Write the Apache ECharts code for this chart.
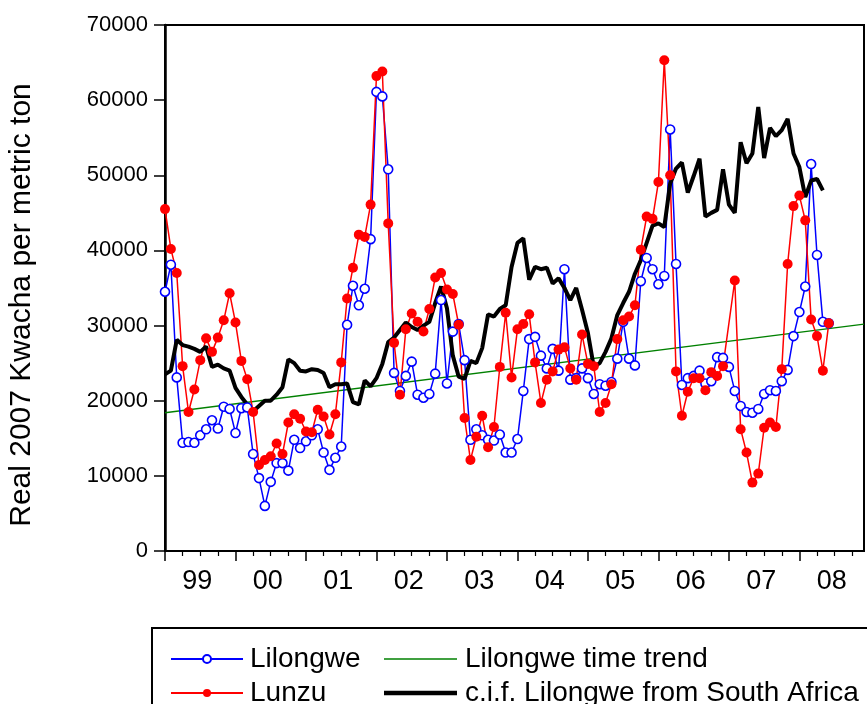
<!DOCTYPE html>
<html><head><meta charset="utf-8">
<script src="https://cdn.jsdelivr.net/npm/echarts@6/dist/echarts.min.js"></script>
<style>html,body{margin:0;padding:0;background:#fff}#c{width:867px;height:704px}</style>
</head><body><div id="c"></div><script>
// Monthly observations, 1999M01 .. 2008M12 (index 0..119)
const yearLabels = ['99','00','01','02','03','04','05','06','07','08'];

const lilongwe = [
 34500,38100,23100,14400,14500,14400,15400,16200,17400,16300,19200,18900,
 15700,19000,19100,12900,9700,6000,9200,11700,11700,10700,14800,13700,
 14600,15400,16200,13100,10800,12400,13900,30100,35300,32700,34900,41500,
 61100,60500,50800,23700,21300,23300,25200,20800,20400,20900,23600,33400,
 22300,29200,30200,25400,14800,16200,15400,14800,14700,15500,13100,13100,
 14900,21300,28200,28500,26000,24300,26900,24000,37500,22800,23000,24300,
 23000,20900,22200,22000,22500,25600,30500,25600,24700,35900,39000,37500,
 35500,36600,56100,38200,22100,23000,23300,24000,22300,22600,25800,25700,
 24500,21300,19300,18500,18400,18900,20900,21400,21300,22600,24100,28600,
 31800,35200,51500,39400,30500,30300
];

const lunzu = [
 45500,40200,37000,24600,18500,21500,25400,28300,26500,28400,30700,34300,
 30400,25300,22850,18500,11450,12100,12600,14300,12900,17100,18200,17600,
 15900,15800,18800,17900,15500,18200,25100,33600,37700,42100,41800,46100,
 63200,63800,43600,27700,20800,29500,31600,30500,29200,32200,36400,37000,
 34800,34200,30100,17700,12100,15200,18000,13800,16500,24500,31700,23100,
 29500,30200,31500,25100,19700,22800,23900,26800,27100,24300,22800,28800,
 24900,24600,18500,19700,22200,28200,30700,31200,32700,40100,44500,44200,
 49100,65300,50000,23900,18000,21200,23000,23000,21400,23800,23300,24600,
 null,36000,16200,13100,9100,10300,16400,17100,16500,24200,38200,45900,
 47300,44000,30800,28600,24000,30300
];

const cifSouthAfrica = [
 23500,24000,28100,27400,27200,26900,26500,27200,24500,24800,24300,24000,
 21700,20500,19500,18600,19300,20000,20000,20800,21800,25500,25000,24000,
 23900,24200,24100,23700,21800,22200,22200,22300,19800,19500,22700,21900,
 23000,24900,27800,28400,29400,30400,29800,29400,30000,30500,33000,35200,
 32300,26000,23200,22900,25300,25000,27000,31500,31200,32200,32700,37800,
 41000,41600,36100,37800,37500,37700,35600,36300,35000,33400,35000,32100,
 29000,24500,25000,26500,28300,31400,33000,34500,36900,38700,41000,43300,
 43600,43100,48900,50900,51700,47700,49900,52200,44500,45000,45400,50800,
 46100,45000,54400,51600,52900,59100,52300,56300,55200,56000,57500,52900,
 51100,47100,49300,49500,48000
];

// Lilongwe time trend: values read at the two ends of the sample
const trendStart = 18400;  // 1999M01
const trendEnd = 30200;    // 2008M12
const lastIndex = 119;

const FONT = '"Liberation Sans", Arial, sans-serif';

const pairs = arr => arr.map((v, i) => [i, v]);
const majorTicks = yearLabels.map((_, k) => k * 12);
const labelPos = yearLabels.map((_, k) => k * 12 + 5.5);
const minorTicks = [];
for (let i = 3; i < lastIndex; i += 3) if (i % 12 !== 0) minorTicks.push(i);

const legendText = {fontSize: 28, fontFamily: FONT, color: '#000'};
function legendAt(name, left, top, iw, extra) {
  return Object.assign({
    left: left, top: top, orient: 'horizontal', itemWidth: iw, itemHeight: 10,
    data: [name], selectedMode: false,
    textStyle: Object.assign({padding: [0, 0, 0, 2]}, legendText)
  }, extra || {});
}

const chart = echarts.init(document.getElementById('c'), null, {renderer: 'canvas'});
chart.setOption({
  animation: false,
  backgroundColor: '#fff',
  grid: {left: 165, right: 3, top: 25, bottom: 153, show: true, borderColor: '#000', borderWidth: 2, backgroundColor: 'transparent'},
  xAxis: [{
    type: 'value', min: 0, max: lastIndex,
    axisLine: {show: true, lineStyle: {color: '#000', width: 2}},
    splitLine: {show: false},
    axisTick: {show: true, customValues: majorTicks, length: 10, lineStyle: {color: '#000', width: 1.5}},
    axisLabel: {show: true, customValues: labelPos, margin: 17, fontSize: 27, fontFamily: FONT, color: '#000',
      formatter: v => yearLabels[Math.round((v - 5.5) / 12)]}
  }, {
    type: 'value', min: 0, max: lastIndex, position: 'bottom',
    axisLine: {show: false}, splitLine: {show: false},
    axisTick: {show: true, customValues: minorTicks, length: 5, lineStyle: {color: '#000', width: 1.2}},
    axisLabel: {show: false}
  }],
  yAxis: {
    type: 'value', min: 0, max: 70000, interval: 10000,
    axisLine: {show: true, lineStyle: {color: '#000', width: 2.5}},
    splitLine: {show: false},
    axisTick: {show: true, length: 11, lineStyle: {color: '#000', width: 1.5}},
    axisLabel: {margin: 17, fontSize: 22, fontFamily: FONT, color: '#000', formatter: v => String(v)}
  },
  legend: [
    legendAt('Lilongwe', 165, 640, 72),
    legendAt('Lunzu', 165, 674, 72),
    legendAt('Lilongwe time trend', 379, 640, 73,
      {icon: 'rect', itemHeight: 1.5, textStyle: Object.assign({padding: [0, 0, 0, 3]}, legendText)}),
    legendAt('c.i.f. Lilongwe from South Africa', 379, 674, 73,
      {icon: 'rect', itemHeight: 4.5, textStyle: Object.assign({padding: [0, 0, 0, 3]}, legendText)})
  ],
  graphic: [
    {type: 'rect', z: -1, shape: {x: 152, y: 628, width: 760, height: 120},
     style: {fill: 'none', stroke: '#000', lineWidth: 2}},
    {type: 'text', x: 22, y: 305, rotation: Math.PI / 2,
     style: {text: 'Real 2007 Kwacha per metric ton', fontSize: 30, fontFamily: FONT, fill: '#000',
             align: 'center', verticalAlign: 'middle'}}
  ],
  series: [
    {name: 'Lilongwe time trend', type: 'line', data: [[0, trendStart], [lastIndex, trendEnd]],
     symbol: 'none', lineStyle: {color: '#008000', width: 1.3}, itemStyle: {color: '#008000'}},
    {name: 'Lilongwe', type: 'line', data: pairs(lilongwe), symbol: 'circle', symbolSize: 9,
     connectNulls: true,
     lineStyle: {color: '#0000ff', width: 1.5},
     itemStyle: {color: '#fff', borderColor: '#0000ff', borderWidth: 1.6}},
    {name: 'Lunzu', type: 'line', data: pairs(lunzu), symbol: 'circle', symbolSize: 10,
     connectNulls: true,
     lineStyle: {color: '#ff0000', width: 1.5},
     itemStyle: {color: '#ff0000', borderColor: '#ff0000', borderWidth: 0}},
    {name: 'c.i.f. Lilongwe from South Africa', type: 'line', data: pairs(cifSouthAfrica),
     symbol: 'none', lineStyle: {color: '#000', width: 4}, itemStyle: {color: '#000'}}
  ]
});
</script></body></html>
